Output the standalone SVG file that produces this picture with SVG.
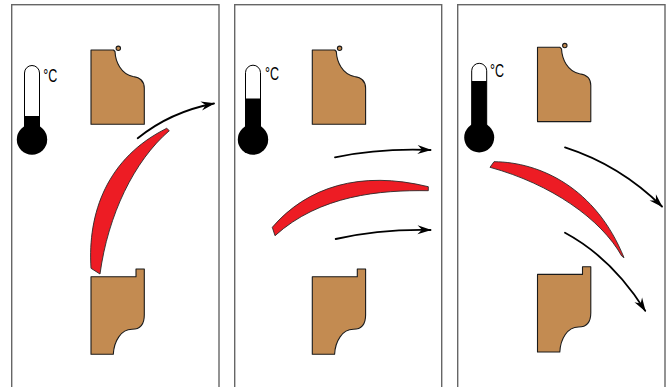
<svg xmlns="http://www.w3.org/2000/svg" width="671" height="387" viewBox="0 0 671 387">
  <defs>
    <style>
      .frame { fill: #ffffff; stroke: #666666; stroke-width: 1.4; }
      .tube { fill: #ffffff; stroke: #000000; stroke-width: 1; }
      .mercury { fill: #000000; }
      .unit { font-family: "Liberation Sans", "DejaVu Sans", sans-serif; font-size: 18px; fill: #000000; }
      .block { fill: #c38b51; stroke: #1a1a1a; stroke-width: 1.1; stroke-linejoin: round; }
      .blade { fill: #ed1c24; stroke: #2a2a2a; stroke-width: 0.9; stroke-linejoin: round; }
      .flow { fill: none; stroke: #000000; stroke-width: 1.8; stroke-linecap: round; }
    </style>
    <marker id="head" markerUnits="userSpaceOnUse" markerWidth="16" markerHeight="12" viewBox="-14 -6 16 12" refX="0" refY="0" orient="auto">
      <path d="M1,0 L-13,-4.5 L-8.5,0 L-13,4.5 Z" fill="#000000"/>
    </marker>
    <!-- upper jaw: local origin at its top-left corner -->
    <g id="upperJaw">
      <path class="block" d="M0,0 H22.5 L24,1.5 C24.5,12 30,24 42,26.5 C50,27.5 53.3,31 53.3,38.3 V74.3 H0 Z"/>
      <circle class="block" cx="27.3" cy="-1.7" r="2.2"/>
    </g>
    <!-- lower jaw: local origin at the top of its step -->
    <path id="lowerJaw" class="block" d="M0,7.7 H45 V0 H53.3 V46 C53.3,55 49,60.3 41,60.3 C30,60.3 23,72 22.3,85.3 H0 Z"/>
  </defs>

  <!-- panels -->
  <rect class="frame" x="11.7" y="4.7" width="207.3" height="400"/>
  <rect class="frame" x="234.7" y="4.7" width="207" height="400"/>
  <rect class="frame" x="457.7" y="4.7" width="207.3" height="400"/>

  <!-- thermometers -->
  <g id="thermo-low" transform="translate(32,139.5)">
    <path class="tube" d="M-7.5,-8 V-66.5 A7.5,7.5 0 0 1 7.5,-66.5 V-8 Z"/>
    <rect class="mercury" x="-7.5" y="-23.5" width="15" height="20"/>
    <circle class="mercury" cx="0" cy="0" r="15.2"/>
    <text class="unit" x="11.3" y="-57.8" textLength="14" lengthAdjust="spacingAndGlyphs">°C</text>
  </g>
  <g id="thermo-mid" transform="translate(253,139.5)">
    <path class="tube" d="M-7.5,-8 V-66.8 A7.5,7.5 0 0 1 7.5,-66.8 V-8 Z"/>
    <rect class="mercury" x="-7.5" y="-41" width="15" height="38"/>
    <circle class="mercury" cx="0" cy="0" r="15.2"/>
    <text class="unit" x="12" y="-59.5" textLength="14" lengthAdjust="spacingAndGlyphs">°C</text>
  </g>
  <g id="thermo-high" transform="translate(479.2,137.5)">
    <path class="tube" d="M-7.5,-8 V-66.7 A7.5,7.5 0 0 1 7.5,-66.7 V-8 Z"/>
    <rect class="mercury" x="-7.5" y="-56.5" width="15" height="53"/>
    <circle class="mercury" cx="0" cy="0" r="15"/>
    <text class="unit" x="10.8" y="-60.2" textLength="14" lengthAdjust="spacingAndGlyphs">°C</text>
  </g>

  <!-- jaws -->
  <use id="jaw-top-1" href="#upperJaw" x="91" y="50"/>
  <use id="jaw-bottom-1" href="#lowerJaw" x="91" y="269"/>
  <use id="jaw-top-2" href="#upperJaw" x="312.3" y="50"/>
  <use id="jaw-bottom-2" href="#lowerJaw" x="312.3" y="269"/>
  <use id="jaw-top-3" href="#upperJaw" x="537.5" y="47.3"/>
  <use id="jaw-bottom-3" href="#lowerJaw" x="537.5" y="266.7"/>

  <!-- bimetal strips -->
  <g id="strip-1">
    <path class="blade" d="M91,268.3 C87.5,213 107,158 166.7,128.3 L169.3,130.7 C134,161 108,215 100,274 Z"/>
  </g>
  <g id="strip-2">
    <path class="blade" d="M272.3,227.3 C307,187 360,170 428.3,186.7 L428.3,190.7 C380,190 320,195 275,235.7 Z"/>
  </g>
  <g id="strip-3">
    <path class="blade" d="M490,167.3 L494,161.7 C540,162 596,188 624,257.7 L621.7,256 C601,219 551,184 490,167.3 Z"/>
  </g>

  <!-- flow arrows -->
  <g id="connectors">
    <path class="flow" marker-end="url(#head)" d="M137.7,138.3 Q170,112 214,103.5"/>
    <path class="flow" marker-end="url(#head)" d="M335,157.3 Q380,148 430.5,150"/>
    <path class="flow" marker-end="url(#head)" d="M335.7,239 Q380,229 430.5,230"/>
    <path class="flow" marker-end="url(#head)" d="M565,147.3 Q620,165 662,206.5"/>
    <path class="flow" marker-end="url(#head)" d="M565,232.7 Q612,258 645.2,310.8"/>
  </g>
</svg>
